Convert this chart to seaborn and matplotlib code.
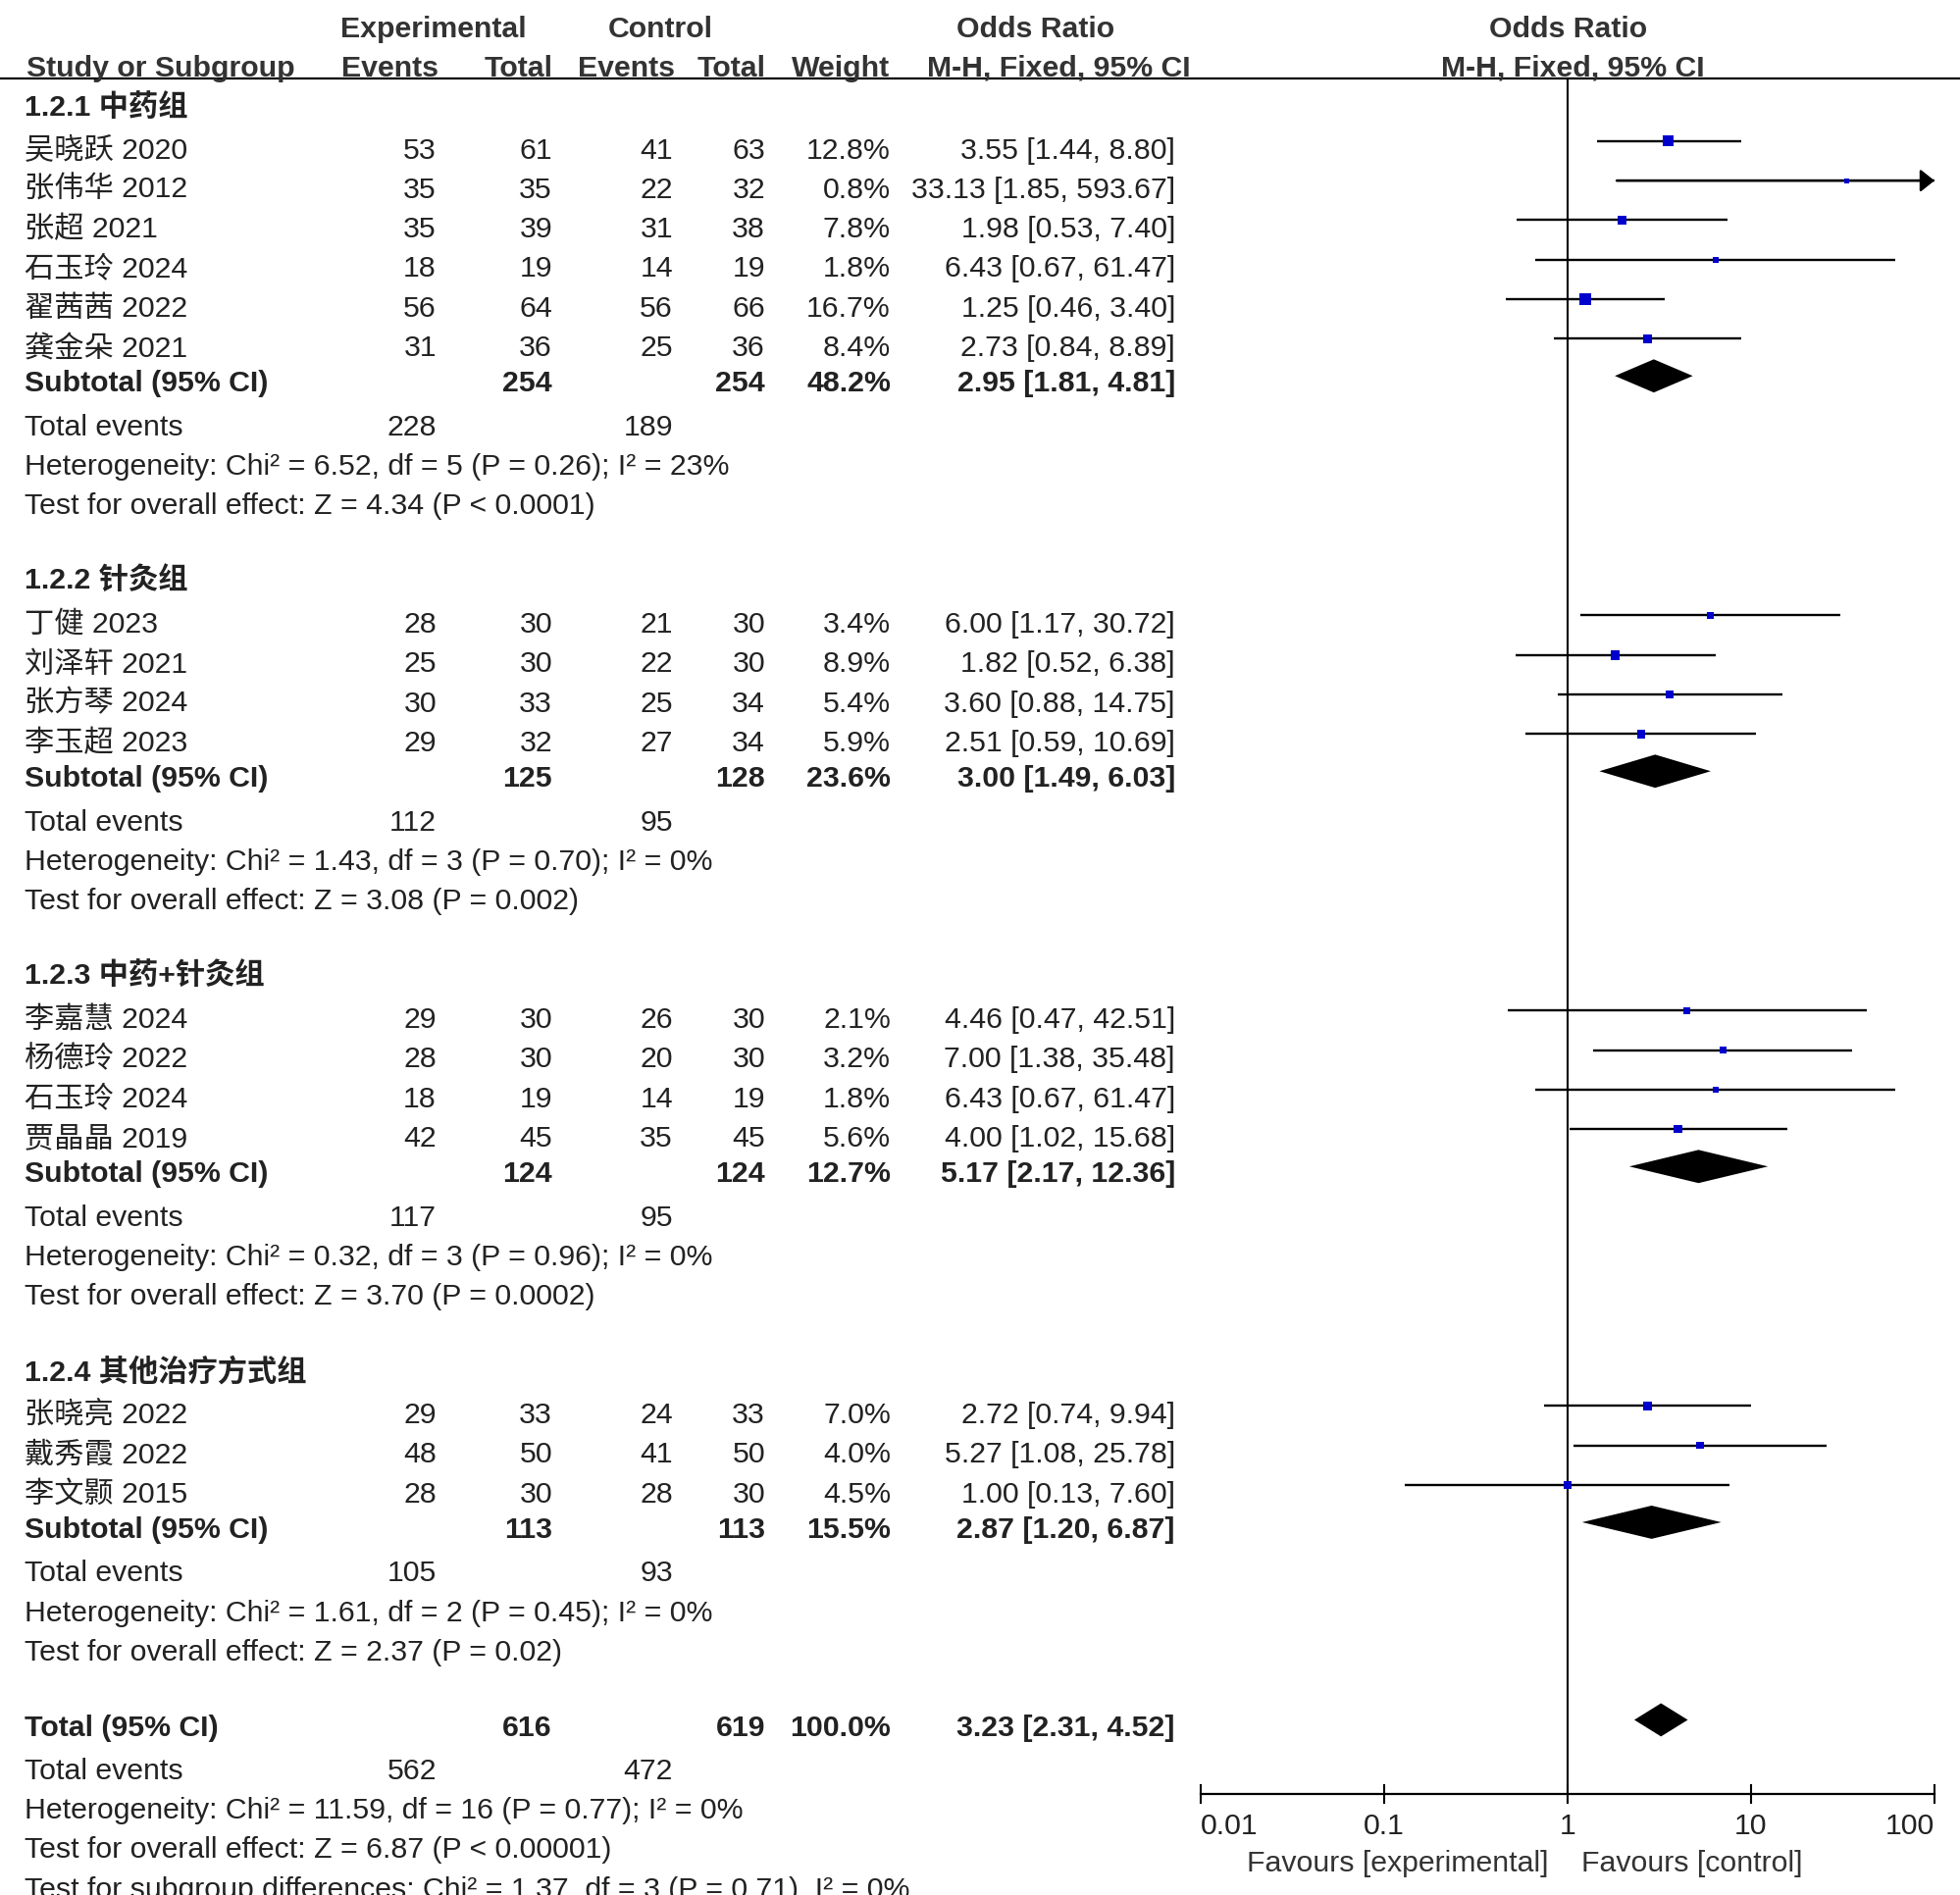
import numpy as np
import pandas as pd
import matplotlib
matplotlib.use("Agg")
import matplotlib.pyplot as plt
import seaborn as sns

sns.set_theme(style="white")
plt.rcParams['font.family'] = ['Liberation Sans', 'Noto Sans CJK SC']

# ---------------- data ----------------
group_labels = ["1.2.1 中药组", "1.2.2 针灸组", "1.2.3 中药+针灸组", "1.2.4 其他治疗方式组"]

study_names = ["吴晓跃 2020", "张伟华 2012", "张超 2021", "石玉玲 2024", "翟茜茜 2022", "龚金朵 2021",
               "丁健 2023", "刘泽轩 2021", "张方琴 2024", "李玉超 2023",
               "李嘉慧 2024", "杨德玲 2022", "石玉玲 2024", "贾晶晶 2019",
               "张晓亮 2022", "戴秀霞 2022", "李文颢 2015"]
study_group = [0, 0, 0, 0, 0, 0, 1, 1, 1, 1, 2, 2, 2, 2, 3, 3, 3]
exp_events = [53, 35, 35, 18, 56, 31, 28, 25, 30, 29, 29, 28, 18, 42, 29, 48, 28]
exp_total = [61, 35, 39, 19, 64, 36, 30, 30, 33, 32, 30, 30, 19, 45, 33, 50, 30]
ctrl_events = [41, 22, 31, 14, 56, 25, 21, 22, 25, 27, 26, 20, 14, 35, 24, 41, 28]
ctrl_total = [63, 32, 38, 19, 66, 36, 30, 30, 34, 34, 30, 30, 19, 45, 33, 50, 30]
weights = [12.8, 0.8, 7.8, 1.8, 16.7, 8.4, 3.4, 8.9, 5.4, 5.9, 2.1, 3.2, 1.8, 5.6, 7.0, 4.0, 4.5]
or_est = [3.55, 33.13, 1.98, 6.43, 1.25, 2.73, 6.00, 1.82, 3.60, 2.51, 4.46, 7.00, 6.43, 4.00, 2.72, 5.27, 1.00]
ci_low = [1.44, 1.85, 0.53, 0.67, 0.46, 0.84, 1.17, 0.52, 0.88, 0.59, 0.47, 1.38, 0.67, 1.02, 0.74, 1.08, 0.13]
ci_high = [8.80, 593.67, 7.40, 61.47, 3.40, 8.89, 30.72, 6.38, 14.75, 10.69, 42.51, 35.48, 61.47, 15.68, 9.94, 25.78, 7.60]

sub_exp_total = [254, 125, 124, 113]
sub_ctrl_total = [254, 128, 124, 113]
sub_weight = [48.2, 23.6, 12.7, 15.5]
sub_or = [2.95, 3.00, 5.17, 2.87]
sub_low = [1.81, 1.49, 2.17, 1.20]
sub_high = [4.81, 6.03, 12.36, 6.87]
sub_exp_events = [228, 112, 117, 105]
sub_ctrl_events = [189, 95, 95, 93]
sub_het = ["Heterogeneity: Chi² = 6.52, df = 5 (P = 0.26); I² = 23%",
           "Heterogeneity: Chi² = 1.43, df = 3 (P = 0.70); I² = 0%",
           "Heterogeneity: Chi² = 0.32, df = 3 (P = 0.96); I² = 0%",
           "Heterogeneity: Chi² = 1.61, df = 2 (P = 0.45); I² = 0%"]
sub_test = ["Test for overall effect: Z = 4.34 (P < 0.0001)",
            "Test for overall effect: Z = 3.08 (P = 0.002)",
            "Test for overall effect: Z = 3.70 (P = 0.0002)",
            "Test for overall effect: Z = 2.37 (P = 0.02)"]

total_exp, total_ctrl = 616, 619
total_or, total_low, total_high = 3.23, 2.31, 4.52
total_exp_events, total_ctrl_events = 562, 472
total_notes = ["Heterogeneity: Chi² = 11.59, df = 16 (P = 0.77); I² = 0%",
               "Test for overall effect: Z = 6.87 (P < 0.00001)",
               "Test for subgroup differences: Chi² = 1.37, df = 3 (P = 0.71), I² = 0%"]

tick_vals = [0.01, 0.1, 1, 10, 100]
tick_labels = ["0.01", "0.1", "1", "10", "100"]

# ---------------- layout ----------------
W, H, LINE = 1999, 1932, 40.3
FS = 21.8
TXT = "#222222"
X_NAME, X_EE, X_ET, X_CE, X_CT, X_W, X_OR = 25, 445, 563, 686, 780, 908, 1198
OFF_ROW, OFF_BOLD = 0.81, 0.71


def ci_text(e, lo, hi):
    return f"{e:.2f} [{lo:.2f}, {hi:.2f}]"


fig = plt.figure(figsize=(W / 100, H / 100), dpi=100)
ax_t = fig.add_axes([0, 0, 1, 1])
ax_t.set_xlim(0, W)
ax_t.set_ylim(H / LINE, 0)
ax_t.axis("off")

fy_top, fy_bot = 80 / LINE, 1829 / LINE
ax_f = fig.add_axes([1224 / W, 1 - 1829 / H, (1972 - 1224) / W, (1829 - 80) / H])
ax_f.set_facecolor("none")


def put(x, y, s, ha="right", bold=False, color=TXT, size=FS):
    ax_t.text(x, y, s, ha=ha, va="center", fontsize=size, color=color,
              fontweight="bold" if bold else "normal")


# header
put(442, 30 / LINE, "Experimental", ha="center", bold=True, color="#333333")
put(673, 30 / LINE, "Control", ha="center", bold=True, color="#333333")
put(1056, 30 / LINE, "Odds Ratio", ha="center", bold=True, color="#333333")
put(1599, 30 / LINE, "Odds Ratio", ha="center", bold=True, color="#333333")
hy = 70 / LINE
put(27, hy, "Study or Subgroup", ha="left", bold=True, color="#333333")
for x, s in [(447, "Events"), (564, "Total"), (688, "Events"), (781, "Total"),
             (907, "Weight"), (1214, "M-H, Fixed, 95% CI")]:
    put(x, hy, s, bold=True, color="#333333")
put(1603, hy, "M-H, Fixed, 95% CI", ha="center", bold=True, color="#333333")
ax_t.axhline(fy_top, color="black", lw=1.6)

# rows
rows = []      # study marks
diamonds = []  # (y, est, lo, hi)
n = 2
for g, glabel in enumerate(group_labels):
    put(X_NAME, n + OFF_BOLD, glabel, ha="left", bold=True)
    n += 1
    for i in [k for k, sg in enumerate(study_group) if sg == g]:
        y = n + OFF_ROW
        put(X_NAME, y, study_names[i], ha="left")
        put(X_EE, y, str(exp_events[i]))
        put(X_ET, y, str(exp_total[i]))
        put(X_CE, y, str(ctrl_events[i]))
        put(X_CT, y, str(ctrl_total[i]))
        put(X_W, y, f"{weights[i]:.1f}%")
        put(X_OR, y, ci_text(or_est[i], ci_low[i], ci_high[i]))
        rows.append(dict(y=y - 0.24, est=or_est[i], lo=ci_low[i], hi=ci_high[i], w=weights[i]))
        n += 1
    y = n + OFF_BOLD
    put(X_NAME, y, "Subtotal (95% CI)", ha="left", bold=True)
    put(X_ET, y, str(sub_exp_total[g]), bold=True)
    put(X_CT, y, str(sub_ctrl_total[g]), bold=True)
    put(X_W, y, f"{sub_weight[g]:.1f}%", bold=True)
    put(X_OR, y, ci_text(sub_or[g], sub_low[g], sub_high[g]), bold=True)
    diamonds.append((y - 0.2, sub_or[g], sub_low[g], sub_high[g]))
    n += 1
    put(X_NAME, n + OFF_ROW, "Total events", ha="left")
    put(X_EE, n + OFF_ROW, str(sub_exp_events[g]))
    put(X_CE, n + OFF_ROW, str(sub_ctrl_events[g]))
    n += 1
    put(X_NAME, n + OFF_ROW, sub_het[g], ha="left")
    n += 1
    put(X_NAME, n + OFF_ROW, sub_test[g], ha="left")
    n += 2

y = n + OFF_BOLD
put(X_NAME, y, "Total (95% CI)", ha="left", bold=True)
put(X_ET, y, str(total_exp), bold=True)
put(X_CT, y, str(total_ctrl), bold=True)
put(X_W, y, "100.0%", bold=True)
put(X_OR, y, ci_text(total_or, total_low, total_high), bold=True)
diamonds.append((y - 0.2, total_or, total_low, total_high))
n += 1
put(X_NAME, n + OFF_ROW, "Total events", ha="left")
put(X_EE, n + OFF_ROW, str(total_exp_events))
put(X_CE, n + OFF_ROW, str(total_ctrl_events))
for note in total_notes:
    n += 1
    put(X_NAME, n + OFF_ROW, note, ha="left")

# ---------------- forest panel ----------------
ax_f.set_xscale("log")
ax_f.set_xlim(0.01, 100)
ax_f.set_ylim(fy_bot, fy_top)
df = pd.DataFrame(rows)
df["side_pt"] = (3 + 2.2 * np.sqrt(df["w"])) * 0.72
df["hi_clip"] = df["hi"].clip(upper=100)

ax_f.axvline(1, color="black", lw=1.5, zorder=1)
ax_f.hlines(df["y"], df["lo"], df["hi_clip"], color="black", lw=1.7, zorder=2)
for _, r in df[df["hi"] > 100].iterrows():
    ax_f.annotate("", xy=(100, r["y"]), xytext=(r["lo"], r["y"]),
                  arrowprops=dict(arrowstyle="-|>,head_length=0.35,head_width=0.28",
                                  color="black", lw=1.7, shrinkA=0, shrinkB=0,
                                  mutation_scale=25))
sns.scatterplot(data=df, x="est", y="y", marker="s", s=df["side_pt"] ** 2,
                color="#0000CC", linewidth=0, legend=False, ax=ax_f, zorder=3)
for yd, e, lo, hi in diamonds:
    h = 0.42
    ax_f.fill([lo, e, hi, e], [yd, yd - h, yd, yd + h], color="black", lw=0, zorder=3)

ax_f.set_xlabel("")
ax_f.set_ylabel("")
ax_f.set_yticks([])
ax_f.set_xticks(tick_vals)
ax_f.set_xticklabels(tick_labels)
ax_f.xaxis.set_minor_locator(matplotlib.ticker.NullLocator())
ax_f.tick_params(axis="x", direction="inout", length=14, width=1.5, color="black",
                 labelsize=FS, labelcolor=TXT, pad=7, bottom=True)
labs = ax_f.get_xticklabels()
labs[0].set_ha("left")
labs[-1].set_ha("right")
for side in ["top", "right", "left"]:
    ax_f.spines[side].set_visible(False)
ax_f.spines["bottom"].set_color("black")
ax_f.spines["bottom"].set_linewidth(1.6)

put(1579, 1900 / LINE, "Favours [experimental]", color="#333333")
put(1612, 1900 / LINE, "Favours [control]", ha="left", color="#333333")

fig.savefig("out.png", dpi=100)
